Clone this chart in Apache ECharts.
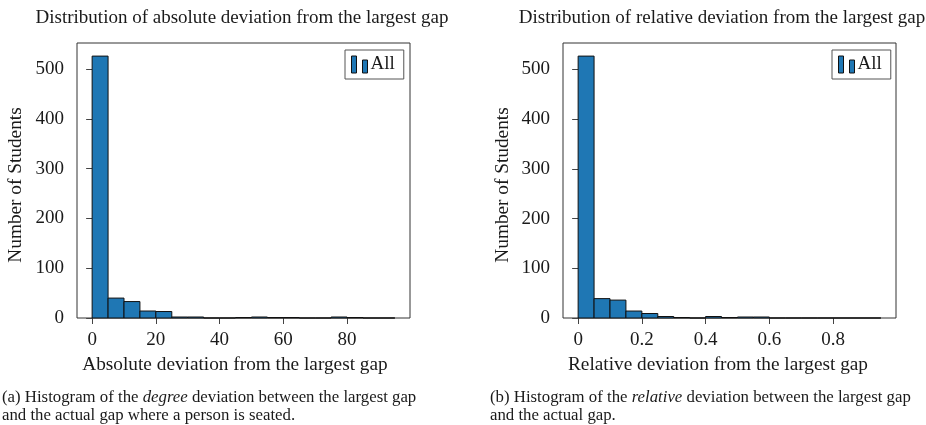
<!DOCTYPE html>
<html>
<head>
<meta charset="utf-8">
<script src="https://cdn.jsdelivr.net/npm/echarts@6/dist/echarts.min.js"></script>
<style>
html,body{margin:0;padding:0;background:#fff;}
#chart{width:926px;height:425px;}
</style>
</head>
<body>
<div id="chart"></div>
<script>
// ---- data ----
var absBinStarts = [0, 5, 10, 15, 20, 25, 30, 35, 40, 45, 50, 55, 60, 65, 70, 75, 80, 85, 90];
var absBinWidth = 5;
var absCounts = [526, 40, 33, 14, 13, 2, 2, 0, 0, 1, 2, 1, 1, 0, 0, 2, 1, 0, 0];

var relBinStarts = [0, 0.05, 0.1, 0.15, 0.2, 0.25, 0.3, 0.35, 0.4, 0.45, 0.5, 0.55, 0.6, 0.65, 0.7, 0.75, 0.8, 0.85, 0.9];
var relBinWidth = 0.05;
var relCounts = [527, 39, 36, 14, 9, 3, 1, 0, 3, 1, 2, 2, 0, 0, 0, 0, 0, 0, 0];

var absTicks = [0, 20, 40, 60, 80];
var relTicks = [0, 0.2, 0.4, 0.6, 0.8];
var yTicks = [0, 100, 200, 300, 400, 500];

var seriesName = 'All';
var titleA = 'Distribution of absolute deviation from the largest gap';
var titleB = 'Distribution of relative deviation from the largest gap';
var xNameA = 'Absolute deviation from the largest gap';
var xNameB = 'Relative deviation from the largest gap';
var yName = 'Number of Students';
var capA1 = '(a) Histogram of the {i|degree} deviation between the largest gap';
var capA2 = 'and the actual gap where a person is seated.';
var capB1 = '(b) Histogram of the {i|relative} deviation between the largest gap';
var capB2 = 'and the actual gap.';

// ---- build ----
var FONT = '"Liberation Serif", "Times New Roman", serif';
var TXT = '#1a1a1a';
var BAR = '#1f77b4';
var AX = 19;      // axis text size
var CAP = 16.8;   // caption size

function histData(starts, w, counts) {
  return starts.map(function (s, i) { return [s, s + w, counts[i]]; });
}
function renderHist(params, api) {
  var p0 = api.coord([api.value(0), api.value(2)]);
  var p1 = api.coord([api.value(1), 0]);
  return {
    type: 'rect',
    shape: { x: p0[0], y: p0[1], width: p1[0] - p0[0], height: p1[1] - p0[1] },
    style: { fill: BAR, stroke: '#111', lineWidth: 1 }
  };
}
function span(starts, w) {
  var lo = starts[0], hi = starts[starts.length - 1] + w;
  var m = (hi - lo) * 0.05;
  return [lo - m, hi + m];
}
var absSpan = span(absBinStarts, absBinWidth);
var relSpan = span(relBinStarts, relBinWidth);

function xAxis(gi, sp, ticks, fmt) {
  return {
    type: 'value', gridIndex: gi, min: sp[0], max: sp[1],
    axisLine: { show: false },
    splitLine: { show: false },
    axisTick: { show: true, inside: false, length: 6, lineStyle: { color: '#444' }, customValues: ticks },
    axisLabel: { customValues: ticks, margin: 13, fontFamily: FONT, fontSize: AX, color: TXT, formatter: fmt }
  };
}
function yAxis(gi, maxv) {
  return {
    type: 'value', gridIndex: gi, min: 0, max: maxv * 1.05,
    axisLine: { show: false },
    splitLine: { show: false },
    axisTick: { show: true, inside: false, length: 6, lineStyle: { color: '#444' }, customValues: yTicks },
    axisLabel: { customValues: yTicks, margin: 13, fontFamily: FONT, fontSize: AX, color: TXT }
  };
}
var gridCommon = { show: true, borderColor: '#333', borderWidth: 1, backgroundColor: '#fff', top: 43, bottom: 107 };
var legendIcon = 'path://M0,0 h5 v17 h-5 z M11,4 h5 v13 h-5 z';
function legend(left) {
  return {
    data: [{ name: seriesName, icon: legendIcon }],
    left: left, top: 50, orient: 'vertical',
    itemWidth: 16, itemHeight: 17, itemGap: 0,
    padding: [5, 9, 5, 6],
    borderColor: '#555', borderWidth: 1, backgroundColor: '#fff', borderRadius: 0,
    selectedMode: false,
    itemStyle: { borderColor: '#111', borderWidth: 1 },
    textStyle: { fontFamily: FONT, fontSize: AX, color: TXT, padding: [0, 0, 0, -2] }
  };
}
function txt(x, y, s, size, align, rot, rich) {
  var o = {
    type: 'text', x: x, y: y, rotation: rot || 0,
    style: { text: s, fontFamily: FONT, fontSize: size, fill: TXT, align: align || 'center', verticalAlign: 'middle' }
  };
  if (rich) o.style.rich = rich;
  return o;
}
var capRich = { i: { fontFamily: FONT, fontSize: CAP, fontStyle: 'italic', fill: TXT } };

var option = {
  animation: false,
  backgroundColor: '#fff',
  grid: [
    Object.assign({ left: 77, right: 926 - 410 }, gridCommon),
    Object.assign({ left: 563, right: 926 - 896 }, gridCommon)
  ],
  xAxis: [
    xAxis(0, absSpan, absTicks),
    xAxis(1, relSpan, relTicks, function (v) { return v === 0 ? '0' : String(v); })
  ],
  yAxis: [yAxis(0, Math.max.apply(null, absCounts)), yAxis(1, Math.max.apply(null, relCounts))],
  legend: [legend(345), legend(832)],
  series: [
    { name: seriesName, type: 'custom', xAxisIndex: 0, yAxisIndex: 0, itemStyle: { color: BAR },
      encode: { x: [0, 1], y: 2 }, data: histData(absBinStarts, absBinWidth, absCounts), renderItem: renderHist },
    { name: seriesName, type: 'custom', xAxisIndex: 1, yAxisIndex: 1, itemStyle: { color: BAR },
      encode: { x: [0, 1], y: 2 }, data: histData(relBinStarts, relBinWidth, relCounts), renderItem: renderHist }
  ],
  graphic: [
    txt(242, 18, titleA, 19),
    txt(722, 18, titleB, 19),
    txt(235, 365, xNameA, 19.3),
    txt(718, 365, xNameB, 19.3),
    txt(16, 185, yName, 19.3, 'center', Math.PI / 2),
    txt(503, 185, yName, 19.3, 'center', Math.PI / 2),
    txt(2, 397.5, capA1, CAP, 'left', 0, capRich),
    txt(2, 415.5, capA2, CAP, 'left'),
    txt(490, 397.5, capB1, CAP, 'left', 0, capRich),
    txt(490, 415.5, capB2, CAP, 'left')
  ]
};
var chart = echarts.init(document.getElementById('chart'), null, { renderer: 'canvas' });
chart.setOption(option);
</script>
</body>
</html>
